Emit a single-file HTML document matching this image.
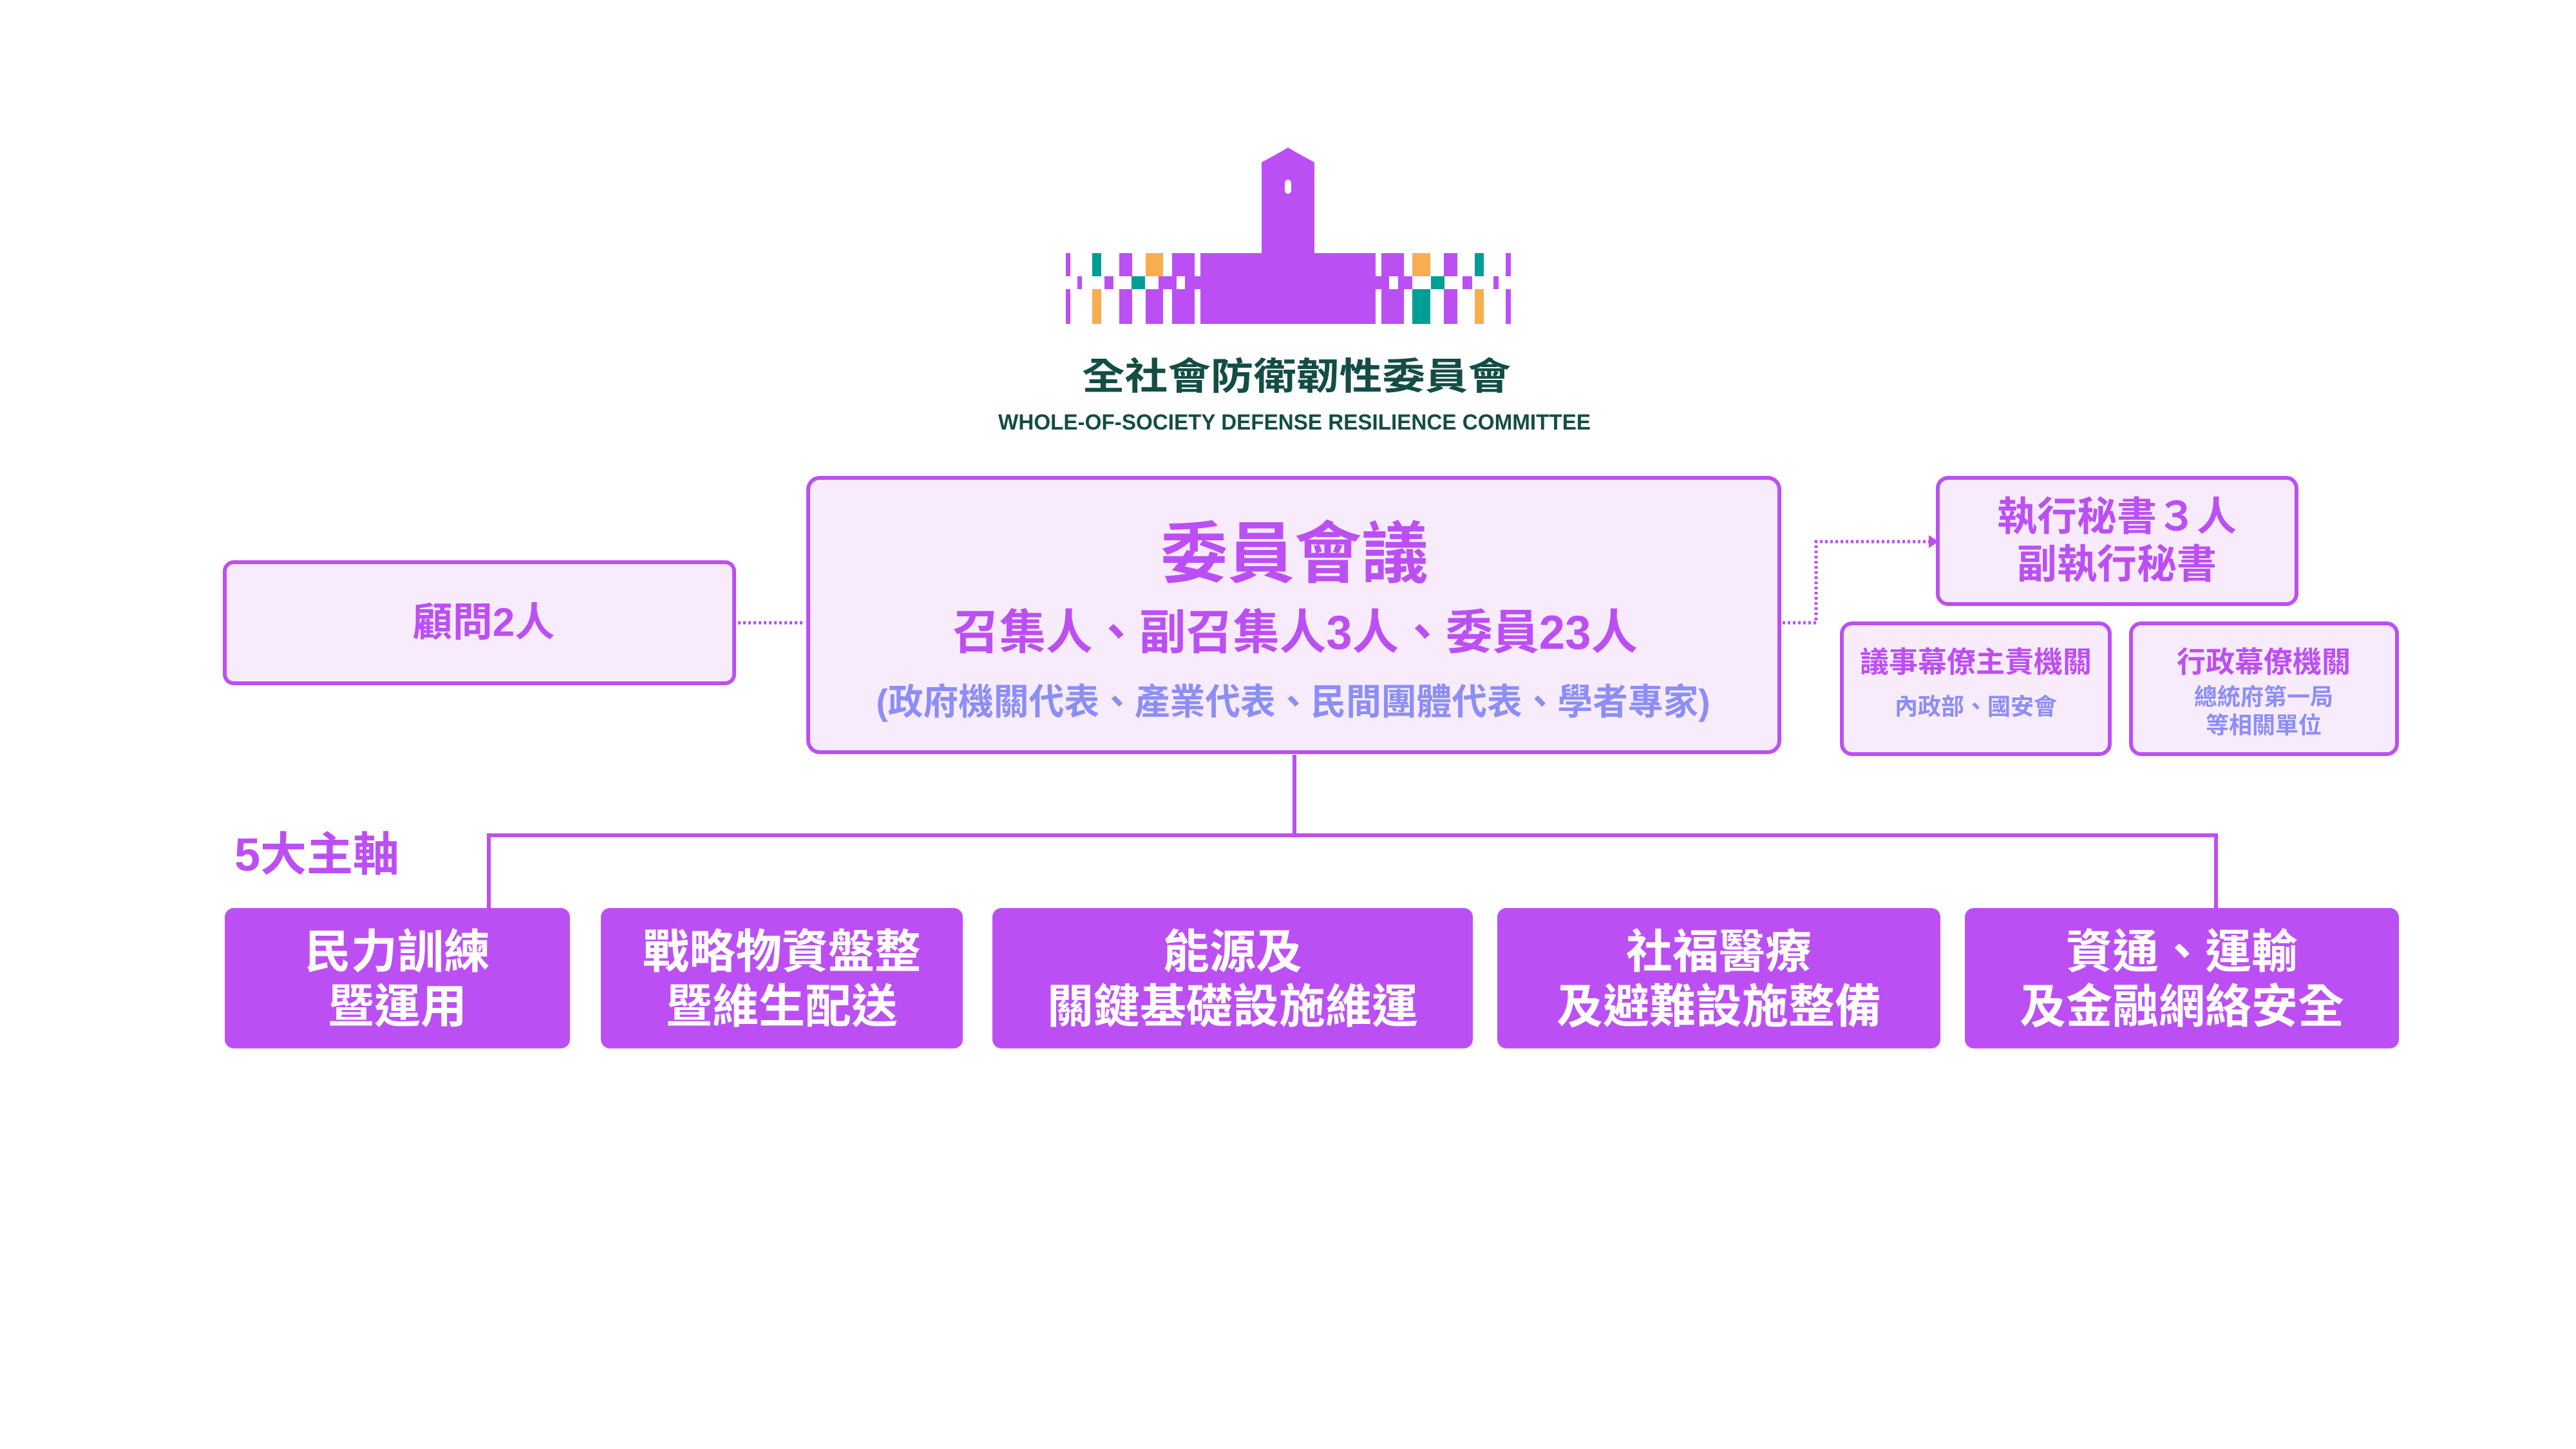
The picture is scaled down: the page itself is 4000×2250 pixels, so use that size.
<!DOCTYPE html>
<html><head><meta charset="utf-8"><style>
html,body{margin:0;padding:0;background:#fff}
svg{display:block}
text{font-family:"Liberation Sans","Noto Sans CJK TC",sans-serif;font-weight:700}
</style></head><body>
<svg width="4000" height="2250" viewBox="0 0 4000 2250" xmlns="http://www.w3.org/2000/svg">
<rect width="4000" height="2250" fill="#fff"/>
<!-- logo -->
<g fill="#bc4ff4">
<path d="M1959 252 L1990 235 L2000 229 L2010 235 L2041 252 L2041 395 L1959 395 Z"/>
<rect x="1864" y="393" width="272" height="110"/>
<rect x="1655" y="393" width="7" height="36"/><rect x="1655" y="449" width="7" height="54"/>
<rect x="1673" y="429" width="7" height="20"/>
<rect x="1715" y="429" width="14" height="20"/>
<rect x="1738" y="393" width="20" height="36"/><rect x="1738" y="449" width="20" height="54"/>
<rect x="1779" y="449" width="27" height="54"/>
<rect x="1799" y="429" width="28" height="20"/><rect x="1840" y="429" width="24" height="20"/>
<rect x="1820" y="393" width="35" height="36"/><rect x="1820" y="449" width="35" height="54"/>
<rect x="2136" y="429" width="57" height="20"/>
<rect x="2145" y="393" width="35" height="36"/><rect x="2145" y="449" width="35" height="54"/>
<rect x="2242" y="393" width="21" height="36"/><rect x="2242" y="449" width="21" height="54"/>
<rect x="2271" y="429" width="15" height="20"/>
<rect x="2319" y="429" width="8" height="20"/>
<rect x="2338" y="393" width="8" height="36"/><rect x="2338" y="449" width="8" height="54"/>
</g>
<rect x="2157" y="429" width="14" height="20" fill="#fff"/>
<rect x="1827" y="429" width="13" height="20" fill="#fff"/>
<rect x="1995" y="279" width="10" height="22" rx="5" fill="#fff"/>
<g fill="#009e94">
<rect x="1696" y="393" width="14" height="36"/><rect x="1757" y="429" width="21" height="20"/>
<rect x="2193" y="449" width="28" height="54"/><rect x="2222" y="429" width="21" height="20"/>
<rect x="2290" y="393" width="14" height="36"/>
</g>
<g fill="#f6ae50">
<rect x="1696" y="449" width="14" height="54"/><rect x="1779" y="393" width="27" height="36"/>
<rect x="2193" y="393" width="28" height="36"/><rect x="2290" y="449" width="14" height="54"/>
</g>
<text x="2013" y="585" text-anchor="middle" dominant-baseline="central" font-size="58" fill="#134d45" textLength="666" lengthAdjust="spacingAndGlyphs">全社會防衛韌性委員會</text>
<text x="2010" y="656" text-anchor="middle" dominant-baseline="central" font-size="34" fill="#134d45" textLength="920" lengthAdjust="spacingAndGlyphs">WHOLE-OF-SOCIETY DEFENSE RESILIENCE COMMITTEE</text>

<!-- connectors -->
<g stroke="#bc4ff4" stroke-width="6" fill="none">
<path d="M2010 1172 V1297 M759 1410 V1297 H3441 V1410"/>
</g>
<g stroke="#bc4ff4" stroke-width="5" fill="none" stroke-dasharray="4 4">
<path d="M1146 967 H1250"/>
<path d="M2768 967 H2820 V841 H2995"/>
</g>
<path d="M2995 831 L3010 841 L2995 851 Z" fill="#bc4ff4"/>

<!-- boxes -->
<g fill="#f8ecfc" stroke="#bc4ff4" stroke-width="6">
<rect x="349" y="873" width="791" height="188" rx="14"/>
<rect x="1255" y="742" width="1508" height="426" rx="18"/>
<rect x="3009" y="742" width="557" height="196" rx="16"/>
<rect x="2860" y="968" width="416" height="203" rx="16"/>
<rect x="3309" y="968" width="413" height="203" rx="16"/>
</g>
<g fill="#bc4ff4" text-anchor="middle" dominant-baseline="central">
<text x="751" y="967" font-size="62">顧問2人</text>
<text x="2010" y="861" font-size="104">委員會議</text>
<text x="2011" y="982" font-size="74" textLength="1064" lengthAdjust="spacingAndGlyphs">召集人、副召集人3人、委員23人</text>
<text x="3287" y="803" font-size="62">執行秘書３人</text>
<text x="3287" y="877" font-size="62">副執行秘書</text>
<text x="3068" y="1028" font-size="45">議事幕僚主責機關</text>
<text x="3515" y="1028" font-size="45">行政幕僚機關</text>
<text x="492" y="1328" font-size="72" text-anchor="middle">5大主軸</text>
</g>
<g fill="#8c8ef7" text-anchor="middle" dominant-baseline="central">
<text x="2008" y="1090" font-size="56" textLength="1295" lengthAdjust="spacingAndGlyphs">(政府機關代表、產業代表、民間團體代表、學者專家)</text>
<text x="3068" y="1097" font-size="36">內政部、國安會</text>
<text x="3515" y="1082" font-size="36">總統府第一局</text>
<text x="3515" y="1126" font-size="36">等相關單位</text>
</g>

<g fill="#bc4ff4">
<rect x="349" y="1410" width="536" height="218" rx="14"/>
<rect x="933" y="1410" width="562" height="218" rx="14"/>
<rect x="1541" y="1410" width="746" height="218" rx="14"/>
<rect x="2325" y="1410" width="688" height="218" rx="14"/>
<rect x="3051" y="1410" width="674" height="218" rx="14"/>
</g>
<g fill="#fff" text-anchor="middle" dominant-baseline="central" font-size="72">
<text x="617" y="1479">民力訓練</text><text x="617" y="1564">暨運用</text>
<text x="1214" y="1479">戰略物資盤整</text><text x="1214" y="1564">暨維生配送</text>
<text x="1914" y="1479">能源及</text><text x="1914" y="1564">關鍵基礎設施維運</text>
<text x="2669" y="1479">社福醫療</text><text x="2669" y="1564">及避難設施整備</text>
<text x="3388" y="1479">資通、運輸</text><text x="3388" y="1564">及金融網絡安全</text>
</g>
</svg>
</body></html>
